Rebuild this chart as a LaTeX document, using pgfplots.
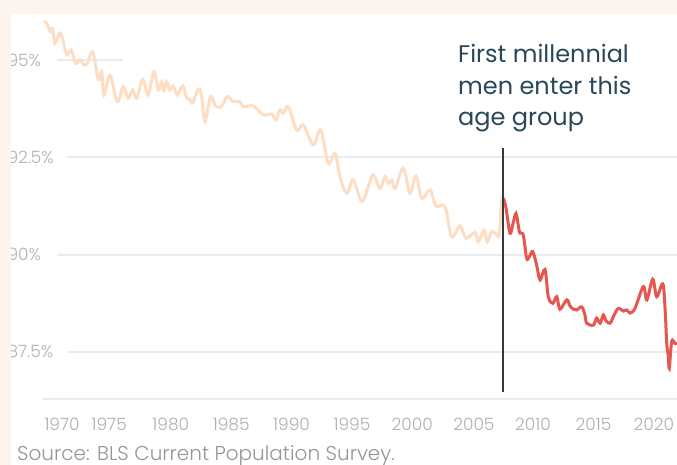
\documentclass[border=0pt]{standalone}
\usepackage{fontspec}
\setmainfont{Poppins}
\newfontfamily\lightfont{Poppins Light}
\usepackage{pgfplots}
\pgfplotsset{compat=1.18}

\definecolor{bgpeach}{HTML}{FDF4EE}
\definecolor{oldline}{HTML}{FDDEC4}
\definecolor{newline}{HTML}{E5574F}
\definecolor{gridc}{HTML}{EBEBEB}
\definecolor{tickc}{HTML}{B0B0B0}
\definecolor{notec}{HTML}{28485A}
\definecolor{vline}{HTML}{2F3B40}

\begin{document}
\begin{tikzpicture}[x=1pt,y=1pt]
\fill[white] (0,0) rectangle (677,465);
\useasboundingbox (0,0) rectangle (677,465);
\begin{axis}[
  at={(43pt,65pt)}, anchor=south west,
  scale only axis, width=634pt, height=386pt,
  xmin=1969.92, xmax=2022.42, ymin=86.267, ymax=96.18,
  axis line style={draw=none}, tick style={draw=none},
  xtick={1971.5,1975.4,1980.5,1985.5,1990.5,1995.5,2000.5,2005.6,2010.5,2015.5,2020.5},
  xticklabels={1970,1975,1980,1985,1990,1995,2000,2005,2010,2015,2020},
  ytick={87.5,90,92.5,95},
  yticklabels={87.5\%,90\%,92.5\%,95\%},
  tick label style={font=\lightfont\fontsize{17}{17}\selectfont, text=tickc},
  xticklabel style={anchor=base, yshift=-31pt},
  yticklabel style={anchor=west, xshift=-39pt},
]
% gridlines
\draw[gridc, line width=2pt] (axis cs:1971.08,95) -- (axis cs:1976.54,95);
\draw[gridc, line width=2pt] (axis cs:1971.90,92.5) -- (axis cs:2022.42,92.5);
\draw[gridc, line width=2pt] (axis cs:1971.08,90) -- (axis cs:2022.42,90);
\draw[gridc, line width=2pt] (axis cs:1971.90,87.5) -- (axis cs:2022.42,87.5);
\draw[gridc, line width=2pt] (axis cs:1969.92,86.30) -- (axis cs:2022.42,86.30);

% before the first millennials
\addplot[oldline, line width=3pt, smooth, tension=0.55] coordinates {
(1970.00,95.98) (1970.22,95.95) (1970.50,95.73) (1970.72,95.81) (1970.91,95.43)
(1971.38,95.69) (1971.88,95.13) (1972.24,95.26) (1972.65,94.91) (1972.98,95.00)
(1973.31,94.87) (1973.59,94.91) (1974.03,95.21) (1974.50,94.49) (1974.78,94.70)
(1974.97,94.10) (1975.47,94.61) (1976.07,93.93) (1976.57,94.31) (1976.98,94.02)
(1977.35,94.23) (1977.68,94.02) (1978.17,94.50) (1978.64,94.10) (1979.11,94.70)
(1979.47,94.23) (1979.75,94.44) (1979.94,94.23) (1980.16,94.44) (1980.43,94.23)
(1980.71,94.33) (1981.04,94.10) (1981.49,94.33) (1981.82,94.02) (1982.09,93.98)
(1982.31,93.90) (1982.78,94.25) (1983.04,94.10) (1983.33,93.41) (1983.79,94.06)
(1984.23,93.80) (1984.74,93.82) (1985.18,94.06) (1985.68,93.93) (1986.23,93.93)
(1986.51,93.80) (1987.33,93.82) (1988.16,93.59) (1988.86,93.61) (1989.21,93.46)
(1989.54,93.72) (1989.82,93.63) (1990.23,93.80) (1990.93,93.20) (1991.47,93.33)
(1992.30,92.82) (1992.92,93.20) (1993.54,92.35) (1994.10,92.60) (1994.51,92.00)
(1995.07,91.58) (1995.61,91.92) (1996.31,91.36) (1996.86,91.75) (1997.27,92.05)
(1997.83,91.70) (1998.24,92.00) (1998.51,91.83) (1998.80,91.92) (1999.07,91.70)
(1999.76,92.22) (2000.31,91.58) (2000.81,92.02) (2001.28,91.45) (2001.97,91.66)
(2002.46,91.25) (2003.21,91.23) (2003.76,90.46) (2004.45,90.74) (2004.95,90.42)
(2005.69,90.57) (2005.97,90.33) (2006.44,90.62) (2006.71,90.33) (2007.08,90.59)
(2007.54,90.50) (2007.71,90.53) (2007.90,91.40) (2008.04,91.45)
};

% after the first millennials enter
\addplot[newline, line width=3pt, smooth, tension=0.55] coordinates {
(2008.04,91.45) (2008.26,91.20) (2008.59,90.55) (2008.84,90.80) (2009.09,91.06)
(2009.30,90.70) (2009.42,90.55) (2009.69,90.50) (2009.97,89.91) (2010.20,89.95)
(2010.47,90.08) (2010.80,89.73) (2011.08,89.35) (2011.49,89.62) (2011.76,88.92)
(2012.13,88.75) (2012.46,88.92) (2012.73,88.60) (2013.29,88.84) (2013.56,88.68)
(2013.84,88.60) (2014.12,88.58) (2014.53,88.66) (2014.80,88.45) (2014.94,88.24)
(2015.49,88.19) (2015.77,88.37) (2016.05,88.24) (2016.32,88.45) (2016.54,88.30)
(2016.88,88.24) (2017.21,88.45) (2017.56,88.62) (2017.98,88.55) (2018.26,88.58)
(2018.53,88.50) (2018.94,88.62) (2019.63,89.18) (2019.92,88.84) (2020.41,89.37)
(2020.74,88.92) (2021.24,89.25) (2021.43,88.62) (2021.57,87.72) (2021.70,87.40)
(2021.78,87.08) (2021.98,87.77) (2022.26,87.72) (2022.50,87.72)
};

\draw[vline, line width=1.3pt] (axis cs:2008.01,86.47) -- (axis cs:2008.01,92.74);
\end{axis}

% frame of the page
\fill[bgpeach] (0,0) rectangle (11,465);
\fill[bgpeach] (0,451) rectangle (677,465);

\node[anchor=base west, inner sep=0, text=notec, font=\fontsize{24}{24}\selectfont] at (458,402) {First millennial};
\node[anchor=base west, inner sep=0, text=notec, font=\fontsize{24}{24}\selectfont] at (458,370) {men enter this};
\node[anchor=base west, inner sep=0, text=notec, font=\fontsize{24}{24}\selectfont] at (458,339) {age group};

\node[anchor=base west, inner sep=0, text=tickc!85!black, font=\lightfont\fontsize{20}{20}\selectfont] at (17,4.5) {Source: BLS Current Population Survey.};
\end{tikzpicture}
\end{document}
